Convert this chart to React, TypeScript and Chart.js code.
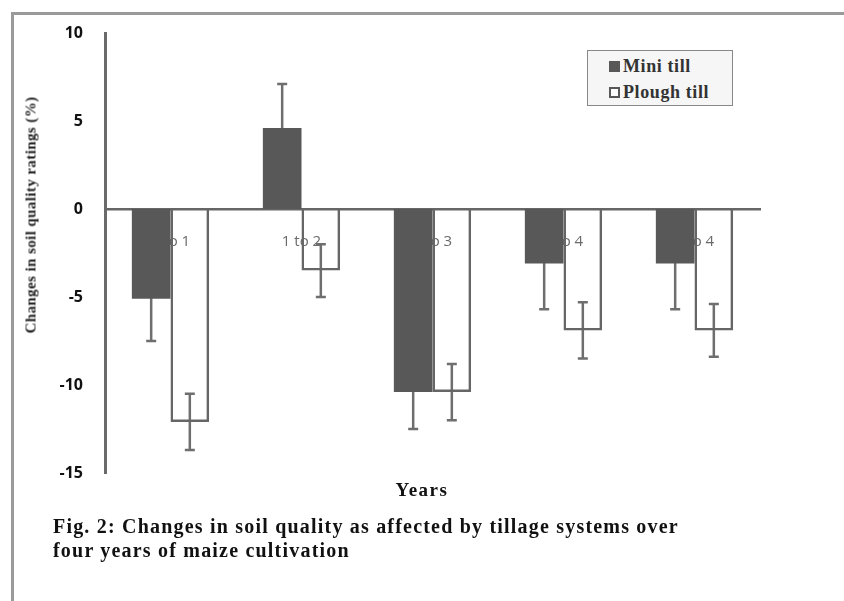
import React, { useEffect, useRef } from "react";
import { Chart, registerables } from "chart.js";

Chart.register(...registerables);

const categories = ["0 to 1", "1 to 2", "2 to 3", "3 to 4", "0 to 4"];
const miniTill = [-5.1, 4.6, -10.4, -3.1, -3.1];
const ploughTill = [-12.1, -3.5, -10.4, -6.9, -6.9];
const miniErr = [2.4, 2.5, 2.1, 2.6, 2.6];
const ploughErr = [1.6, 1.5, 1.6, 1.6, 1.5];
const yTicks = [10, 5, 0, -5, -10, -15];
const seriesNames = ["Mini till", "Plough till"];
const yTitle = "Changes in soil quality ratings (%)";
const xTitle = "Years";
const captionLines = [
  "Fig. 2: Changes in soil quality as affected by tillage systems over",
  "four years of maize cultivation",
];

const errorBars = {
  id: "errorBars",
  beforeDatasetsDraw(chart: any) {
    const ctx = chart.ctx;
    const ys = chart.scales.y;
    const errs = [miniErr, ploughErr];
    chart.data.datasets.forEach((ds: any, i: number) => {
      const meta = chart.getDatasetMeta(i);
      meta.data.forEach((bar: any, j: number) => {
        const v = ds.data[j];
        const e = errs[i][j];
        const x = bar.x;
        const y1 = ys.getPixelForValue(v + e);
        const y2 = ys.getPixelForValue(v - e);
        ctx.save();
        ctx.strokeStyle = "#6e6e6e";
        ctx.lineWidth = 2.5;
        ctx.beginPath();
        ctx.moveTo(x, y1);
        ctx.lineTo(x, y2);
        ctx.moveTo(x - 5, y1);
        ctx.lineTo(x + 5, y1);
        ctx.moveTo(x - 5, y2);
        ctx.lineTo(x + 5, y2);
        ctx.stroke();
        ctx.restore();
      });
    });
  },
};

export default function App() {
  const ref = useRef<HTMLCanvasElement | null>(null);
  useEffect(() => {
    if (!ref.current) return;
    const chart = new Chart(ref.current, {
      type: "bar",
      data: {
        labels: categories,
        datasets: [
          {
            label: seriesNames[0],
            data: miniTill,
            backgroundColor: "#585858",
            borderColor: "#585858",
            borderWidth: 0,
            categoryPercentage: 0.59,
            barPercentage: 1.0,
          },
          {
            label: seriesNames[1],
            data: ploughTill,
            backgroundColor: "rgba(255,255,255,0)",
            borderColor: "#666666",
            borderWidth: 2.5,
            categoryPercentage: 0.59,
            barPercentage: 1.0,
          },
        ],
      },
      options: {
        animation: false,
        responsive: false,
        maintainAspectRatio: false,
        layout: { padding: { top: 33, bottom: 128, left: 0, right: 84 } },
        plugins: {
          legend: { display: false },
          tooltip: { enabled: false },
        },
        scales: {
          x: {
            position: { y: 0 } as any,
            grid: { display: false },
            border: { display: true, color: "#666666", width: 2.5 },
            ticks: {
              color: "#6a6a6a",
              font: { family: "Open Sans", size: 15 },
              padding: 16,
            },
          },
          y: {
            min: -15,
            max: 10,
            grid: { display: false },
            border: { display: true, color: "#6a6a6a", width: 3 },
            afterFit: (scale: any) => {
              scale.width = 105;
            },
            afterBuildTicks: (scale: any) => {
              scale.ticks = yTicks.map((v) => ({ value: v }));
            },
            ticks: {
              color: "#111111",
              padding: 14,
              font: { family: "Open Sans", size: 16, weight: "bold" },
            },
          },
        },
      },
      plugins: [errorBars],
    });
    return () => chart.destroy();
  }, []);

  return (
    <div
      style={{
        position: "fixed",
        left: 0,
        top: 0,
        width: 844,
        height: 601,
        background: "#ffffff",
        overflow: "hidden",
      }}
    >
      <div
        style={{
          position: "absolute",
          left: 11,
          top: 12,
          width: 840,
          height: 600,
          borderTop: "3px solid #9a9a9a",
          borderLeft: "3px solid #9a9a9a",
        }}
      />
      <canvas
        ref={ref}
        width={844}
        height={601}
        style={{ position: "absolute", left: 0, top: 0, width: 844, height: 601 }}
      />
      <div
        style={{
          position: "absolute",
          left: 31,
          top: 215,
          transform: "translate(-50%, -50%) rotate(-90deg)",
          whiteSpace: "nowrap",
          fontFamily: "Liberation Serif",
          fontWeight: "bold",
          fontSize: 15,
          letterSpacing: 0.4,
          color: "#222",
        }}
      >
        {yTitle}
      </div>
      <div
        style={{
          position: "absolute",
          left: 422,
          top: 490,
          transform: "translate(-50%, -50%)",
          whiteSpace: "nowrap",
          fontFamily: "Liberation Serif",
          fontWeight: "bold",
          fontSize: 19,
          letterSpacing: 1.5,
          color: "#111",
        }}
      >
        {xTitle}
      </div>
      <div
        style={{
          position: "absolute",
          left: 53,
          top: 514,
          whiteSpace: "nowrap",
          fontFamily: "Liberation Serif",
          fontWeight: "bold",
          fontSize: 20,
          letterSpacing: 1.2,
          lineHeight: "24px",
          color: "#111",
        }}
      >
        {captionLines.map((l, i) => (
          <div key={i}>{l}</div>
        ))}
      </div>
      <div
        style={{
          position: "absolute",
          left: 587,
          top: 50,
          width: 144,
          height: 54,
          border: "1.5px solid #888",
          background: "#f6f6f6",
          fontFamily: "Liberation Serif",
          fontWeight: "bold",
          fontSize: 18,
          letterSpacing: 0.6,
          color: "#333",
        }}
      >
        {seriesNames.map((n, i) => (
          <div
            key={i}
            style={{
              position: "absolute",
              left: 21,
              top: 4 + i * 26,
              height: 22,
              display: "flex",
              alignItems: "center",
              whiteSpace: "nowrap",
            }}
          >
            <span
              style={{
                display: "inline-block",
                width: 11,
                height: 11,
                marginRight: 3,
                boxSizing: "border-box",
                background: i === 0 ? "#585858" : "#fff",
                border: "2px solid #585858",
              }}
            />
            {n}
          </div>
        ))}
      </div>
    </div>
  );
}
